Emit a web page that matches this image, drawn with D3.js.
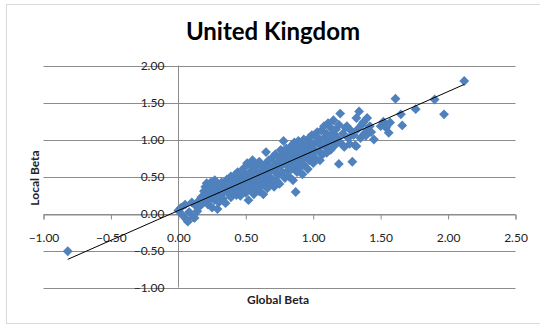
<!DOCTYPE html>
<html>
<head>
<meta charset="utf-8">
<script src="https://cdn.jsdelivr.net/npm/d3@7"></script>
<style>
  body { margin: 0; background: #fff; }
  svg { display: block; font-family: Lato, 'Open Sans', sans-serif; }
</style>
</head>
<body>
<div id="chart"></div>
<script>
// Global beta (x) vs local beta (y)
const points = [
  [-0.82, -0.51],
  [0.00, 0.04], [0.02, 0.08], [0.03, -0.02], [0.05, 0.12], [0.06, -0.08], [0.07, -0.11], [0.08, 0.02],
  [0.10, 0.15], [0.11, -0.05], [0.12, -0.06], [0.13, 0.10], [0.14, 0.03], [0.15, 0.17],
  [0.16, 0.10], [0.17, 0.22], [0.18, 0.14], [0.19, 0.30], [0.20, 0.18], [0.20, 0.36], [0.21, 0.41],
  [0.22, 0.25], [0.22, 0.12], [0.23, 0.33], [0.24, 0.20], [0.24, 0.42], [0.25, 0.28], [0.25, 0.08],
  [0.26, 0.35], [0.27, 0.18], [0.27, 0.45], [0.28, 0.26], [0.29, 0.06], [0.29, 0.32], [0.30, 0.38], [0.30, 0.15],
  [0.31, 0.24], [0.32, 0.33], [0.32, 0.42], [0.33, 0.20], [0.34, 0.30], [0.35, 0.38], [0.35, 0.14],
  [0.36, 0.46], [0.37, 0.27], [0.37, 0.35], [0.38, 0.41], [0.39, 0.22], [0.39, 0.50], [0.40, 0.33],
  [0.40, 0.44], [0.41, 0.28], [0.42, 0.38], [0.42, 0.52], [0.43, 0.25], [0.43, 0.46], [0.44, 0.35],
  [0.44, 0.56], [0.45, 0.30], [0.45, 0.42],
  [0.46, 0.50], [0.46, 0.24], [0.47, 0.38], [0.47, 0.58], [0.48, 0.45], [0.48, 0.32], [0.49, 0.62],
  [0.49, 0.40], [0.50, 0.52], [0.50, 0.28], [0.51, 0.47], [0.51, 0.68], [0.52, 0.18], [0.52, 0.38],
  [0.53, 0.56], [0.53, 0.44], [0.54, 0.64], [0.54, 0.33], [0.55, 0.50], [0.55, 0.72], [0.56, 0.41],
  [0.56, 0.26], [0.57, 0.58], [0.57, 0.46], [0.58, 0.66], [0.58, 0.35], [0.59, 0.52], [0.60, 0.44],
  [0.60, 0.70], [0.60, 0.30],
  [0.61, 0.56], [0.62, 0.38], [0.62, 0.62], [0.63, 0.48], [0.63, 0.26], [0.64, 0.66], [0.64, 0.54],
  [0.65, 0.83], [0.65, 0.42], [0.66, 0.60], [0.66, 0.34], [0.67, 0.72], [0.67, 0.50], [0.68, 0.64],
  [0.68, 0.40], [0.69, 0.58], [0.70, 0.76], [0.70, 0.46], [0.71, 0.66], [0.71, 0.36], [0.72, 0.56],
  [0.72, 0.80], [0.73, 0.62], [0.73, 0.44], [0.74, 0.70], [0.74, 0.52], [0.75, 0.40], [0.75, 0.76],
  [0.76, 0.64], [0.76, 0.86], [0.77, 0.56], [0.78, 0.98], [0.78, 0.72], [0.79, 0.48], [0.79, 0.80],
  [0.80, 0.66], [0.80, 0.88], [0.81, 0.58], [0.82, 0.76], [0.82, 0.50], [0.83, 0.84], [0.83, 0.68],
  [0.84, 0.92], [0.84, 0.60], [0.85, 0.74], [0.85, 0.45], [0.86, 0.96], [0.86, 0.80], [0.87, 0.29],
  [0.87, 0.66], [0.88, 0.88], [0.88, 0.56], [0.89, 0.74], [0.89, 0.98], [0.90, 0.62], [0.90, 0.84],
  [0.91, 0.72], [0.91, 0.94], [0.92, 0.53], [0.92, 0.80], [0.93, 1.00], [0.93, 0.66], [0.94, 0.88],
  [0.95, 0.76], [0.95, 0.98], [0.96, 0.60], [0.96, 0.86], [0.97, 1.02], [0.97, 0.72], [0.98, 0.92],
  [0.99, 0.80], [0.99, 1.06], [1.00, 0.68], [1.00, 0.94], [1.01, 0.86], [1.02, 1.04], [1.02, 0.74],
  [1.03, 0.96], [1.03, 1.10], [1.04, 0.84], [1.05, 1.00], [1.05, 0.72],
  [1.06, 0.92], [1.06, 1.12], [1.07, 0.80], [1.08, 1.02], [1.08, 1.18], [1.09, 0.90], [1.10, 1.08],
  [1.10, 0.82], [1.11, 1.22], [1.11, 0.96], [1.12, 1.04], [1.13, 0.86], [1.13, 1.16], [1.14, 0.98],
  [1.15, 1.26], [1.15, 1.08], [1.16, 0.92], [1.17, 1.14], [1.18, 1.02], [1.19, 0.67], [1.19, 1.20],
  [1.20, 1.35], [1.20, 0.96],
  [1.22, 1.08], [1.23, 0.90], [1.24, 1.16], [1.25, 1.18], [1.26, 1.02], [1.27, 0.94], [1.28, 1.12],
  [1.29, 0.70], [1.30, 1.06], [1.31, 0.92], [1.32, 1.29], [1.32, 0.91], [1.33, 1.14], [1.34, 1.38],
  [1.35, 1.02], [1.36, 1.20], [1.37, 1.23], [1.38, 1.08], [1.39, 1.05], [1.40, 1.29], [1.40, 1.13],
  [1.42, 1.18], [1.43, 1.10], [1.45, 1.00],
  [1.50, 1.18], [1.52, 1.24], [1.54, 1.16], [1.56, 1.09], [1.57, 1.23], [1.61, 1.55], [1.65, 1.34],
  [1.66, 1.19], [1.76, 1.41], [1.90, 1.54], [1.97, 1.34], [2.12, 1.79]
];

const xTicks = [-1, -0.5, 0, 0.5, 1, 1.5, 2, 2.5];
const yTicks = [-1, -0.5, 0, 0.5, 1, 1.5, 2];

const chartTitle = 'United Kingdom';
const xTitle = 'Global Beta';
const yTitle = 'Local Beta';

const width = 540;
const height = 327;

const svg = d3.select('#chart').append('svg')
  .attr('width', width)
  .attr('height', height);

// Outer chart border, like the Excel chart area
svg.append('rect')
  .attr('x', 6.5)
  .attr('y', 4.5)
  .attr('width', width)
  .attr('height', 319)
  .attr('fill', '#fff')
  .attr('stroke', '#d9d9d9');

const x = d3.scaleLinear().domain([-1, 2.5]).range([43.5, 515.5]);
const y = d3.scaleLinear().domain([-1, 2]).range([287.5, 65.5]);

// Horizontal gridlines
svg.append('g')
  .selectAll('line')
  .data(yTicks)
  .join('line')
  .attr('x1', x(-1))
  .attr('x2', x(2.5))
  .attr('y1', d => Math.round(y(d)) + 0.5)
  .attr('y2', d => Math.round(y(d)) + 0.5)
  .attr('stroke', '#8c8c8c');

// Y axis at x = 0
svg.append('line')
  .attr('x1', Math.round(x(0)) + 0.5)
  .attr('x2', Math.round(x(0)) + 0.5)
  .attr('y1', y(2))
  .attr('y2', y(-1))
  .attr('stroke', '#8c8c8c');

// X axis at y = 0 with the tick marks
const xAxis = d3.axisBottom(x)
  .tickValues(xTicks)
  .tickSize(5)
  .tickFormat(d3.format('.2f'));

const gx = svg.append('g')
  .attr('transform', `translate(0,${Math.round(y(0)) + 0.5})`)
  .call(xAxis);
gx.select('.domain').attr('stroke', '#8c8c8c');
gx.selectAll('.tick line').attr('stroke', '#8c8c8c');
gx.selectAll('.tick text')
  .attr('y', 19)
  .attr('font-size', 12)
  .attr('font-family', 'Lato, sans-serif')
  .attr('fill', '#222');

// Y tick labels, drawn over the gridlines
const yAxis = d3.axisLeft(y)
  .tickValues(yTicks)
  .tickSize(0)
  .tickPadding(14)
  .tickFormat(d3.format('.2f'));

const gy = svg.append('g')
  .attr('transform', `translate(${x(0)},0)`)
  .call(yAxis);
gy.select('.domain').remove();
gy.selectAll('.tick text')
  .attr('font-size', 12)
  .attr('font-family', 'Lato, sans-serif')
  .attr('fill', '#222');

// Diamond markers
const diamond = d3.symbol().type(d3.symbolDiamond2).size(62);
svg.append('g')
  .selectAll('path')
  .data(points)
  .join('path')
  .attr('d', diamond)
  .attr('transform', d => `translate(${x(d[0])},${y(d[1])})`)
  .attr('fill', '#4f81bd');

// Linear trend line fitted to the points
const mx = d3.mean(points, d => d[0]);
const my = d3.mean(points, d => d[1]);
const sxy = d3.sum(points, d => (d[0] - mx) * (d[1] - my));
const sxx = d3.sum(points, d => (d[0] - mx) * (d[0] - mx));
const slope = sxy / sxx;
const intercept = my - slope * mx;
const xExtent = d3.extent(points, d => d[0]);

svg.append('line')
  .attr('x1', x(xExtent[0]))
  .attr('y1', y(intercept + slope * xExtent[0]))
  .attr('x2', x(xExtent[1]))
  .attr('y2', y(intercept + slope * xExtent[1]))
  .attr('stroke', '#000')
  .attr('stroke-width', 1);

// Titles
svg.append('text')
  .attr('x', 273)
  .attr('y', 40)
  .attr('text-anchor', 'middle')
  .attr('font-size', 24)
  .attr('font-weight', 'bold')
  .text(chartTitle);

svg.append('text')
  .attr('x', 278)
  .attr('y', 304)
  .attr('text-anchor', 'middle')
  .attr('font-size', 12)
  .attr('font-weight', 'bold')
  .attr('fill', '#222')
  .text(xTitle);

svg.append('text')
  .attr('transform', 'translate(39,178) rotate(-90)')
  .attr('text-anchor', 'middle')
  .attr('font-size', 12)
  .attr('font-weight', 'bold')
  .attr('fill', '#222')
  .text(yTitle);
</script>
</body>
</html>
